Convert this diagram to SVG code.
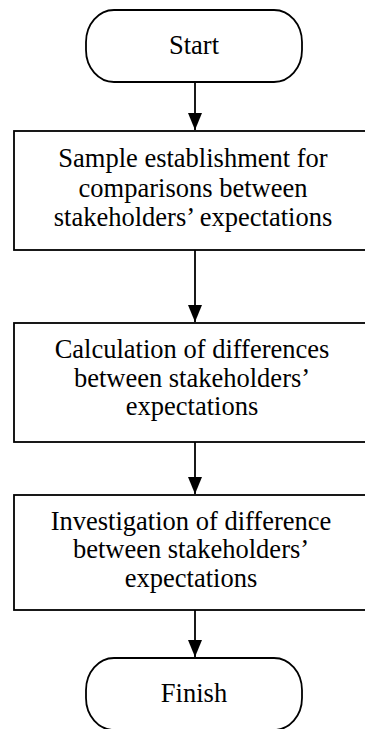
<svg xmlns="http://www.w3.org/2000/svg" width="365" height="729" viewBox="0 0 365 729">
<style>
.shape{fill:#ffffff;stroke:#000000;stroke-width:1.8}
.lbl{font-family:"Liberation Serif","Times New Roman",Tinos,serif;font-size:26.5px;fill:#000000;text-anchor:middle}
.conn{stroke:#000000;stroke-width:1.8;fill:none}
</style>
<defs>
<marker id="ah" viewBox="0 0 17 14" refX="17" refY="7" markerWidth="17" markerHeight="14" markerUnits="userSpaceOnUse" orient="auto">
<path d="M0,0 L17,7 L0,14 z" fill="#000000"/>
</marker>
</defs>
<rect width="365" height="729" fill="#ffffff"/>
<g id="start">
<rect class="shape" x="86" y="10" width="216" height="72" rx="28" ry="32"/>
<text class="lbl" x="194" y="54">Start</text>
</g>
<g id="step1">
<rect class="shape" x="14" y="131" width="372" height="119"/>
<text class="lbl" x="193" y="167">Sample establishment for</text>
<text class="lbl" x="193" y="197">comparisons between</text>
<text class="lbl" x="193" y="226">stakeholders’ expectations</text>
</g>
<g id="step2">
<rect class="shape" x="14" y="323" width="372" height="119"/>
<text class="lbl" x="192" y="358">Calculation of differences</text>
<text class="lbl" x="192" y="387">between stakeholders’</text>
<text class="lbl" x="192" y="415">expectations</text>
</g>
<g id="step3">
<rect class="shape" x="14" y="495" width="372" height="115"/>
<text class="lbl" x="191" y="530">Investigation of difference</text>
<text class="lbl" x="191" y="558">between stakeholders’</text>
<text class="lbl" x="191" y="587">expectations</text>
</g>
<g id="finish">
<rect class="shape" x="86" y="658" width="216" height="72" rx="28" ry="32"/>
<text class="lbl" x="194" y="702">Finish</text>
</g>
<g id="connectors">
<line class="conn" x1="195" y1="82" x2="195" y2="130" marker-end="url(#ah)"/>
<line class="conn" x1="195" y1="250" x2="195" y2="322" marker-end="url(#ah)"/>
<line class="conn" x1="195" y1="442" x2="195" y2="494" marker-end="url(#ah)"/>
<line class="conn" x1="195" y1="610" x2="195" y2="657" marker-end="url(#ah)"/>
</g>
</svg>
